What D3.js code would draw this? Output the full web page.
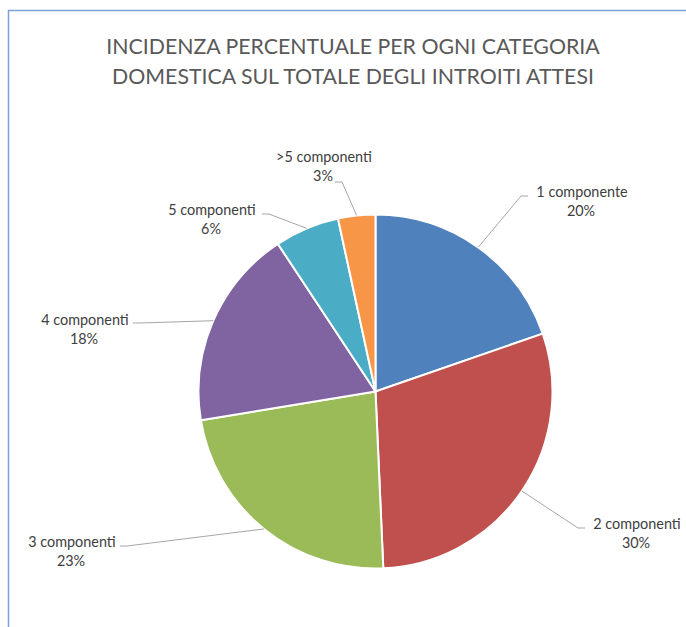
<!DOCTYPE html>
<html>
<head>
<meta charset="utf-8">
<script src="https://cdn.jsdelivr.net/npm/d3@7"></script>
<style>
  html, body { margin: 0; padding: 0; background: #ffffff; }
  svg { display: block; }
</style>
</head>
<body>
<svg id="chart" width="686" height="627"></svg>
<script>
// ---- data ----
const titleLines = ["INCIDENZA PERCENTUALE PER OGNI CATEGORIA", "DOMESTICA SUL TOTALE DEGLI INTROITI ATTESI"];
const categories = ["1 componente", "2 componenti", "3 componenti", "4 componenti", "5 componenti", ">5 componenti"];
const values = [19.7, 29.6, 23.1, 18.3, 5.9, 3.4];
const colors = ["#4F81BD", "#C0504D", "#9BBB59", "#8064A2", "#4BACC6", "#F79646"];

// ---- layout (label placement, like Excel's best fit) ----
const labelLayout = [
  { cx: 582, y: 197, side: "right", hx: 528, hy: 196 },
  { cx: 637, y: 529, side: "right", hx: 585, hy: 528 },
  { cx: 72,  y: 547, side: "left",  hx: 120, hy: 546 },
  { cx: 85,  y: 325, side: "left",  hx: 133, hy: 323 },
  { cx: 212, y: 215, side: "left",  hx: 262, hy: 214 },
  { cx: 324, y: 162, side: "left",  hx: 335, hy: 182 }
];

const svg = d3.select("#chart");
const W = 686, H = 627;
const cx = 375.5, cy = 391.5, R = 177;

// frame
svg.append("line").attr("x1", 8.5).attr("y1", 10).attr("x2", 8.5).attr("y2", H)
  .attr("stroke", "#7BA1DA").attr("stroke-width", 1.5);
svg.append("line").attr("x1", 8).attr("y1", 10.5).attr("x2", W).attr("y2", 10.5)
  .attr("stroke", "#7BA1DA").attr("stroke-width", 1.5);

// title
svg.append("g").selectAll("text").data(titleLines).join("text")
  .attr("x", 353).attr("y", (d, i) => 54 + i * 30)
  .attr("text-anchor", "middle")
  .attr("font-family", "Lato, 'Open Sans', sans-serif")
  .attr("font-weight", 400)
  .attr("font-size", 21.3)
  .attr("fill", "#595959")
  .text(d => d);

const total = d3.sum(values);
const pie = d3.pie().sort(null).value(d => d.v);
const arcs = pie(values.map((v, i) => ({ v, name: categories[i], color: colors[i], i })));
const arc = d3.arc().innerRadius(0).outerRadius(R);
const g = svg.append("g").attr("transform", `translate(${cx},${cy})`);

g.selectAll("path").data(arcs).join("path")
  .attr("d", arc)
  .attr("fill", d => d.data.color)
  .attr("stroke", "#ffffff")
  .attr("stroke-width", 2)
  .attr("stroke-linejoin", "round");

// leader lines
const lg = svg.append("g");
arcs.forEach((d, i) => {
  const L = labelLayout[i];
  const a = (d.startAngle + d.endAngle) / 2;
  const px = cx + R * Math.sin(a), py = cy - R * Math.cos(a);
  const ex = L.side === "right" ? L.hx - 7 : L.hx + 7;
  lg.append("polyline")
    .attr("points", `${L.hx},${L.hy} ${ex},${L.hy} ${px},${py}`)
    .attr("fill", "none")
    .attr("stroke", "#A6A6A6")
    .attr("stroke-width", 1);
});

// labels
const labG = svg.append("g")
  .attr("font-family", "Lato, 'Open Sans', sans-serif")
  .attr("font-size", 14.4)
  .attr("fill", "#404040")
  .attr("text-anchor", "middle");
arcs.forEach((d, i) => {
  const L = labelLayout[i];
  const t = labG.append("text").attr("x", L.cx).attr("y", L.y);
  t.append("tspan").attr("x", L.cx).attr("y", L.y).text(d.data.name);
  t.append("tspan").attr("x", L.cx - 1).attr("y", L.y + 19)
    .text(Math.round(d.data.v / total * 100) + "%");
});
</script>
</body>
</html>
